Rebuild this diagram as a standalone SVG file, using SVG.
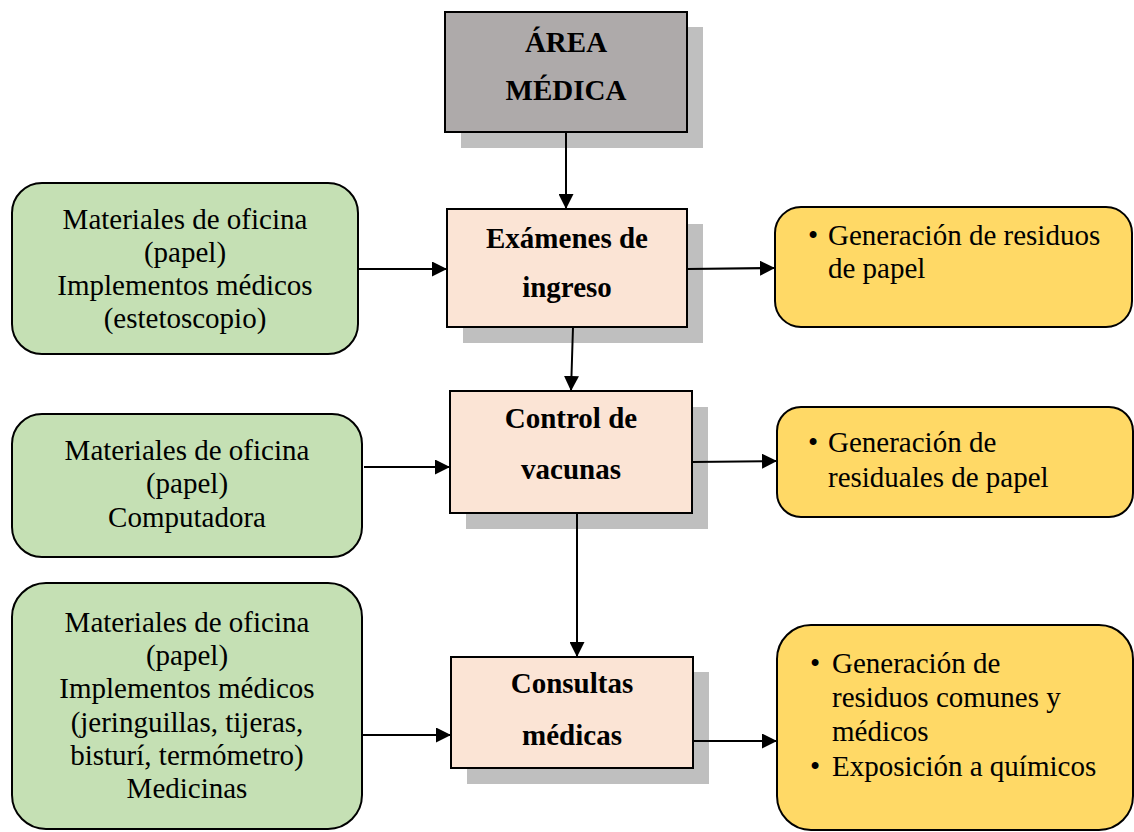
<svg xmlns="http://www.w3.org/2000/svg" width="1134" height="832" viewBox="0 0 1134 832" font-family="'Liberation Serif', 'DejaVu Serif', serif">
<style>
  text { font-family: 'Liberation Serif', 'DejaVu Serif', serif; font-size: 29px; fill: #000; }
  .b { font-weight: bold; text-anchor: middle; }
  .c { text-anchor: middle; }
  .shadow { fill: #bfbfbf; }
  .proc { fill: #fbe4d5; stroke: #000; stroke-width: 2; }
  .head { fill: #aeaaaa; stroke: #000; stroke-width: 2; }
  .in { fill: #c5e0b4; stroke: #000; stroke-width: 2; }
  .out { fill: #ffd966; stroke: #000; stroke-width: 2; }
  .arrow { stroke: #000; stroke-width: 2; fill: none; marker-end: url(#ah); }
</style>
<defs>
  <marker id="ah" viewBox="0 0 14 14" refX="14" refY="7" markerWidth="15" markerHeight="15" markerUnits="userSpaceOnUse" orient="auto">
    <path d="M0,0 L14,7 L0,14 z" fill="#000"/>
  </marker>
</defs>
<rect width="1134" height="832" fill="#fff"/>

<g id="area-medica">
  <rect class="shadow" x="461" y="27" width="242" height="121"/>
  <rect class="head" x="445" y="12" width="242" height="120"/>
  <text class="b" x="566" y="52">ÁREA</text>
  <text class="b" x="566" y="100">MÉDICA</text>
</g>

<g id="examenes">
  <rect class="shadow" x="463" y="224" width="240" height="119"/>
  <rect class="proc" x="447" y="209" width="240" height="118"/>
  <text class="b" x="567" y="248">Exámenes de</text>
  <text class="b" x="567" y="297">ingreso</text>
</g>

<g id="control">
  <rect class="shadow" x="466" y="407" width="242" height="122"/>
  <rect class="proc" x="450" y="391" width="242" height="122"/>
  <text class="b" x="571" y="428">Control de</text>
  <text class="b" x="571" y="479">vacunas</text>
</g>

<g id="consultas">
  <rect class="shadow" x="467" y="672" width="242" height="112"/>
  <rect class="proc" x="451" y="657" width="242" height="111"/>
  <text class="b" x="572" y="693">Consultas</text>
  <text class="b" x="572" y="745">médicas</text>
</g>

<g id="in1">
  <rect class="in" x="12" y="183" width="346" height="171" rx="30" ry="30"/>
  <text class="c" x="185" y="229">Materiales de oficina</text>
  <text class="c" x="185" y="262">(papel)</text>
  <text class="c" x="185" y="295">Implementos médicos</text>
  <text class="c" x="185" y="328">(estetoscopio)</text>
</g>

<g id="in2">
  <rect class="in" x="12" y="414" width="350" height="143" rx="30" ry="30"/>
  <text class="c" x="187" y="460">Materiales de oficina</text>
  <text class="c" x="187" y="493">(papel)</text>
  <text class="c" x="187" y="527">Computadora</text>
</g>

<g id="in3">
  <rect class="in" x="12" y="583" width="350" height="246" rx="34" ry="34"/>
  <text class="c" x="187" y="632">Materiales de oficina</text>
  <text class="c" x="187" y="665">(papel)</text>
  <text class="c" x="187" y="698">Implementos médicos</text>
  <text class="c" x="187" y="732">(jeringuillas, tijeras,</text>
  <text class="c" x="187" y="765">bisturí, termómetro)</text>
  <text class="c" x="187" y="798">Medicinas</text>
</g>

<g id="out1">
  <rect class="out" x="775" y="207" width="357" height="120" rx="26" ry="26"/>
  <text x="808" y="245">•</text>
  <text x="828" y="245">Generación de residuos</text>
  <text x="828" y="278">de papel</text>
</g>

<g id="out2">
  <rect class="out" x="777" y="407" width="356" height="110" rx="24" ry="24"/>
  <text x="808" y="452">•</text>
  <text x="828" y="452">Generación de</text>
  <text x="828" y="487">residuales de papel</text>
</g>

<g id="out3">
  <rect class="out" x="777" y="625" width="356" height="205" rx="34" ry="34"/>
  <text x="810" y="673">•</text>
  <text x="832" y="673">Generación de</text>
  <text x="832" y="707">residuos comunes y</text>
  <text x="832" y="741">médicos</text>
  <text x="810" y="776">•</text>
  <text x="832" y="776">Exposición a químicos</text>
</g>

<g id="connectors">
  <line class="arrow" x1="566" y1="132" x2="566" y2="209"/>
  <line class="arrow" x1="573" y1="327" x2="571" y2="391"/>
  <line class="arrow" x1="577" y1="513" x2="577" y2="657"/>
  <line class="arrow" x1="358" y1="269" x2="447" y2="269"/>
  <line class="arrow" x1="364" y1="467" x2="450" y2="467"/>
  <line class="arrow" x1="363" y1="735" x2="451" y2="735"/>
  <line class="arrow" x1="687" y1="269" x2="775" y2="268"/>
  <line class="arrow" x1="692" y1="462" x2="777" y2="461"/>
  <line class="arrow" x1="693" y1="741" x2="777" y2="741"/>
</g>
</svg>
